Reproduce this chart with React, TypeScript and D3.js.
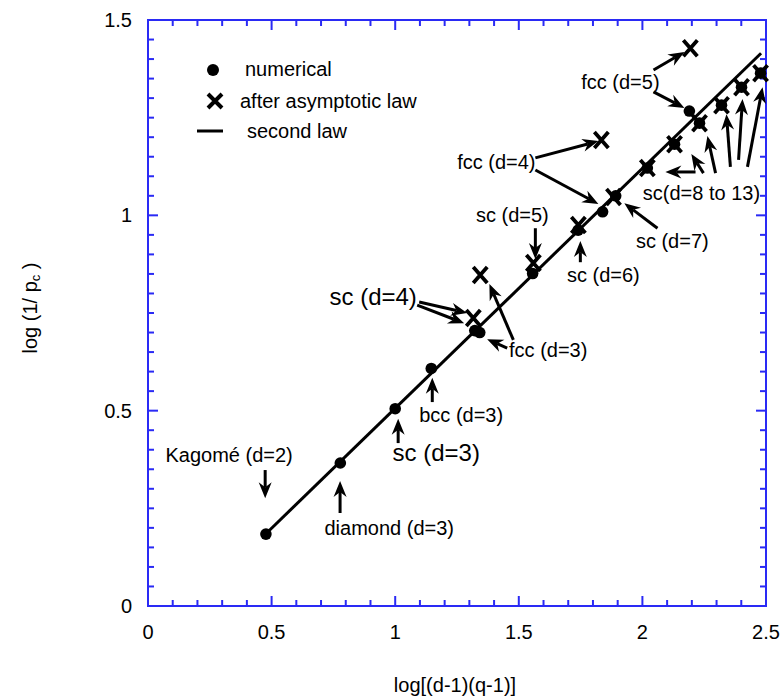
import React from 'react';
import * as d3 from 'd3';

const W = 780;
const H = 696;
const BLUE = '#2a2af5';
const FONT = '"Liberation Sans", Arial, Helvetica, sans-serif';

// numerical values (filled dots)
const numX = [0.477, 0.778, 1.0, 1.146, 1.322, 1.342, 1.556, 1.74, 1.839, 1.892, 2.19, 2.02, 2.13, 2.231, 2.32, 2.401, 2.478];
const numY = [0.184, 0.366, 0.505, 0.608, 0.705, 0.7, 0.851, 0.962, 1.009, 1.05, 1.267, 1.121, 1.182, 1.236, 1.282, 1.328, 1.364];

// values after asymptotic law (X marks)
const asymX = [1.344, 1.316, 1.559, 1.741, 1.883, 1.834, 2.02, 2.13, 2.231, 2.32, 2.401, 2.478, 2.194];
const asymY = [0.847, 0.737, 0.878, 0.975, 1.047, 1.193, 1.121, 1.182, 1.236, 1.282, 1.328, 1.364, 1.428];

// second law (straight line)
const lawX = [0.477, 2.48];
const lawY = [0.185, 1.415];

const xTicks = [0, 0.5, 1, 1.5, 2, 2.5];
const yTicks = [0, 0.5, 1, 1.5];

// annotation labels: text, x, y, font size
const labelText = ['Kagomé (d=2)', 'diamond (d=3)', 'sc (d=3)', 'bcc (d=3)', 'sc (d=4)', 'fcc (d=3)', 'sc (d=5)', 'sc (d=6)', 'sc (d=7)', 'fcc (d=4)', 'fcc (d=5)', 'sc(d=8 to 13)'];
const labelX = [0.328, 0.976, 1.166, 1.267, 0.911, 1.619, 1.474, 1.842, 2.121, 1.409, 1.911, 2.239];
const labelY = [0.386, 0.2, 0.392, 0.489, 0.791, 0.655, 1.001, 0.847, 0.934, 1.136, 1.341, 1.057];
const labelSize = [20, 20, 24, 20, 24, 20, 20, 20, 20, 20, 20, 20];

// annotation arrows: [x1, y1, x2 (tip), y2 (tip)]
const arrows = [
  [0.474, 0.348, 0.474, 0.276],
  [0.777, 0.238, 0.777, 0.32],
  [1.012, 0.417, 1.012, 0.479],
  [1.15, 0.522, 1.15, 0.584],
  [1.097, 0.778, 1.291, 0.75],
  [1.089, 0.77, 1.279, 0.724],
  [1.478, 0.681, 1.381, 0.824],
  [1.453, 0.66, 1.372, 0.683],
  [1.567, 0.967, 1.567, 0.888],
  [1.749, 0.88, 1.749, 0.934],
  [2.061, 0.967, 1.927, 1.031],
  [1.567, 1.147, 1.822, 1.19],
  [1.567, 1.116, 1.822, 1.029],
  [2.045, 1.372, 2.17, 1.418],
  [2.045, 1.316, 2.17, 1.275],
  [2.215, 1.111, 2.093, 1.111],
  [2.247, 1.108, 2.198, 1.157],
  [2.296, 1.108, 2.263, 1.203],
  [2.356, 1.124, 2.34, 1.259],
  [2.389, 1.142, 2.405, 1.298],
  [2.425, 1.124, 2.486, 1.328],
];

const x = d3.scaleLinear().domain([0, 2.5]).range([148, 766]);
const y = d3.scaleLinear().domain([0, 1.5]).range([606, 20]);

function XMark({ cx, cy, a = 7, b = 8, w = 3.8 }: { cx: number; cy: number; a?: number; b?: number; w?: number }) {
  return (
    <path
      d={`M${cx - a},${cy - b}L${cx + a},${cy + b}M${cx + a},${cy - b}L${cx - a},${cy + b}`}
      stroke="#000"
      strokeWidth={w}
      fill="none"
    />
  );
}

function Arrow({ d }: { d: number[] }) {
  const x1 = x(d[0]), y1 = y(d[1]), x2 = x(d[2]), y2 = y(d[3]);
  const len = Math.hypot(x2 - x1, y2 - y1);
  const ux = (x2 - x1) / len, uy = (y2 - y1) / len;
  const nx = -uy, ny = ux;
  const hl = 16, hw = 6.5, notch = 11;
  const head = [
    [x2, y2],
    [x2 - hl * ux + hw * nx, y2 - hl * uy + hw * ny],
    [x2 - notch * ux, y2 - notch * uy],
    [x2 - hl * ux - hw * nx, y2 - hl * uy - hw * ny],
  ];
  return (
    <g>
      <line x1={x1} y1={y1} x2={x2 - notch * ux} y2={y2 - notch * uy} stroke="#000" strokeWidth={3} />
      <path d={'M' + head.map(p => p.join(',')).join('L') + 'Z'} fill="#000" />
    </g>
  );
}

export default function App() {
  const xMinor = d3.range(0, 26).map(i => i / 10);
  const yMinor = d3.range(0, 31).map(i => i / 20);
  const isMajor = (v: number) => Math.abs(v * 2 - Math.round(v * 2)) < 1e-6;
  const [l, r] = x.range();
  const [b, t] = y.range();

  const law = d3.line<number>().x(i => x(lawX[i])).y(i => y(lawY[i]));

  return (
    <svg width={W} height={H} style={{ position: 'absolute', left: 0, top: 0, background: '#fff' }} fontFamily={FONT}>
      {/* ticks, inward on all sides */}
      {xMinor.map(v => {
        const len = isMajor(v) ? 10 : 6;
        return (
          <g key={'xt' + v} stroke={BLUE} strokeWidth={2}>
            <line x1={x(v)} x2={x(v)} y1={b} y2={b - len} />
            <line x1={x(v)} x2={x(v)} y1={t} y2={t + len} />
          </g>
        );
      })}
      {yMinor.map(v => {
        const len = isMajor(v) ? 10 : 6;
        return (
          <g key={'yt' + v} stroke={BLUE} strokeWidth={2}>
            <line x1={l} x2={l + len} y1={y(v)} y2={y(v)} />
            <line x1={r} x2={r - len} y1={y(v)} y2={y(v)} />
          </g>
        );
      })}
      <rect x={l} y={t} width={r - l} height={b - t} fill="none" stroke={BLUE} strokeWidth={2} />

      {xTicks.map(v => (
        <text key={'xl' + v} x={x(v)} y={632} textAnchor="middle" dominantBaseline="central" fontSize={20}>{v}</text>
      ))}
      {yTicks.map(v => (
        <text key={'yl' + v} x={132} y={y(v)} textAnchor="end" dominantBaseline="central" fontSize={20}>{v}</text>
      ))}
      <text x={455} y={685} textAnchor="middle" dominantBaseline="central" fontSize={20}>log[(d-1)(q-1)]</text>
      <text transform="translate(30,308) rotate(-90)" textAnchor="middle" dominantBaseline="central" fontSize={20}>
        log (1/ p<tspan fontSize={13} dy={5}>c</tspan><tspan dy={-5}> )</tspan>
      </text>

      {/* legend */}
      <circle cx={213} cy={70} r={6} fill="#000" />
      <text x={245} y={69} dominantBaseline="central" fontSize={20}>numerical</text>
      <XMark cx={215} cy={101} a={7} b={7} w={4} />
      <text x={240} y={101} dominantBaseline="central" fontSize={20}>after asymptotic law</text>
      <line x1={197} x2={223} y1={131} y2={131} stroke="#000" strokeWidth={3} />
      <text x={247} y={131} dominantBaseline="central" fontSize={20}>second law</text>

      {/* second law */}
      <path d={law([0, 1]) || ''} stroke="#000" strokeWidth={3} fill="none" />

      {numX.map((v, i) => (
        <circle key={'n' + i} cx={x(v)} cy={y(numY[i])} r={5.8} fill="#000" />
      ))}
      {asymX.map((v, i) => (
        <XMark key={'a' + i} cx={x(v)} cy={y(asymY[i])} />
      ))}

      {arrows.map((d, i) => <Arrow key={'ar' + i} d={d} />)}
      {labelText.map((s, i) => (
        <text key={'lb' + i} x={x(labelX[i])} y={y(labelY[i])} textAnchor="middle" dominantBaseline="central" fontSize={labelSize[i]}>{s}</text>
      ))}
    </svg>
  );
}
